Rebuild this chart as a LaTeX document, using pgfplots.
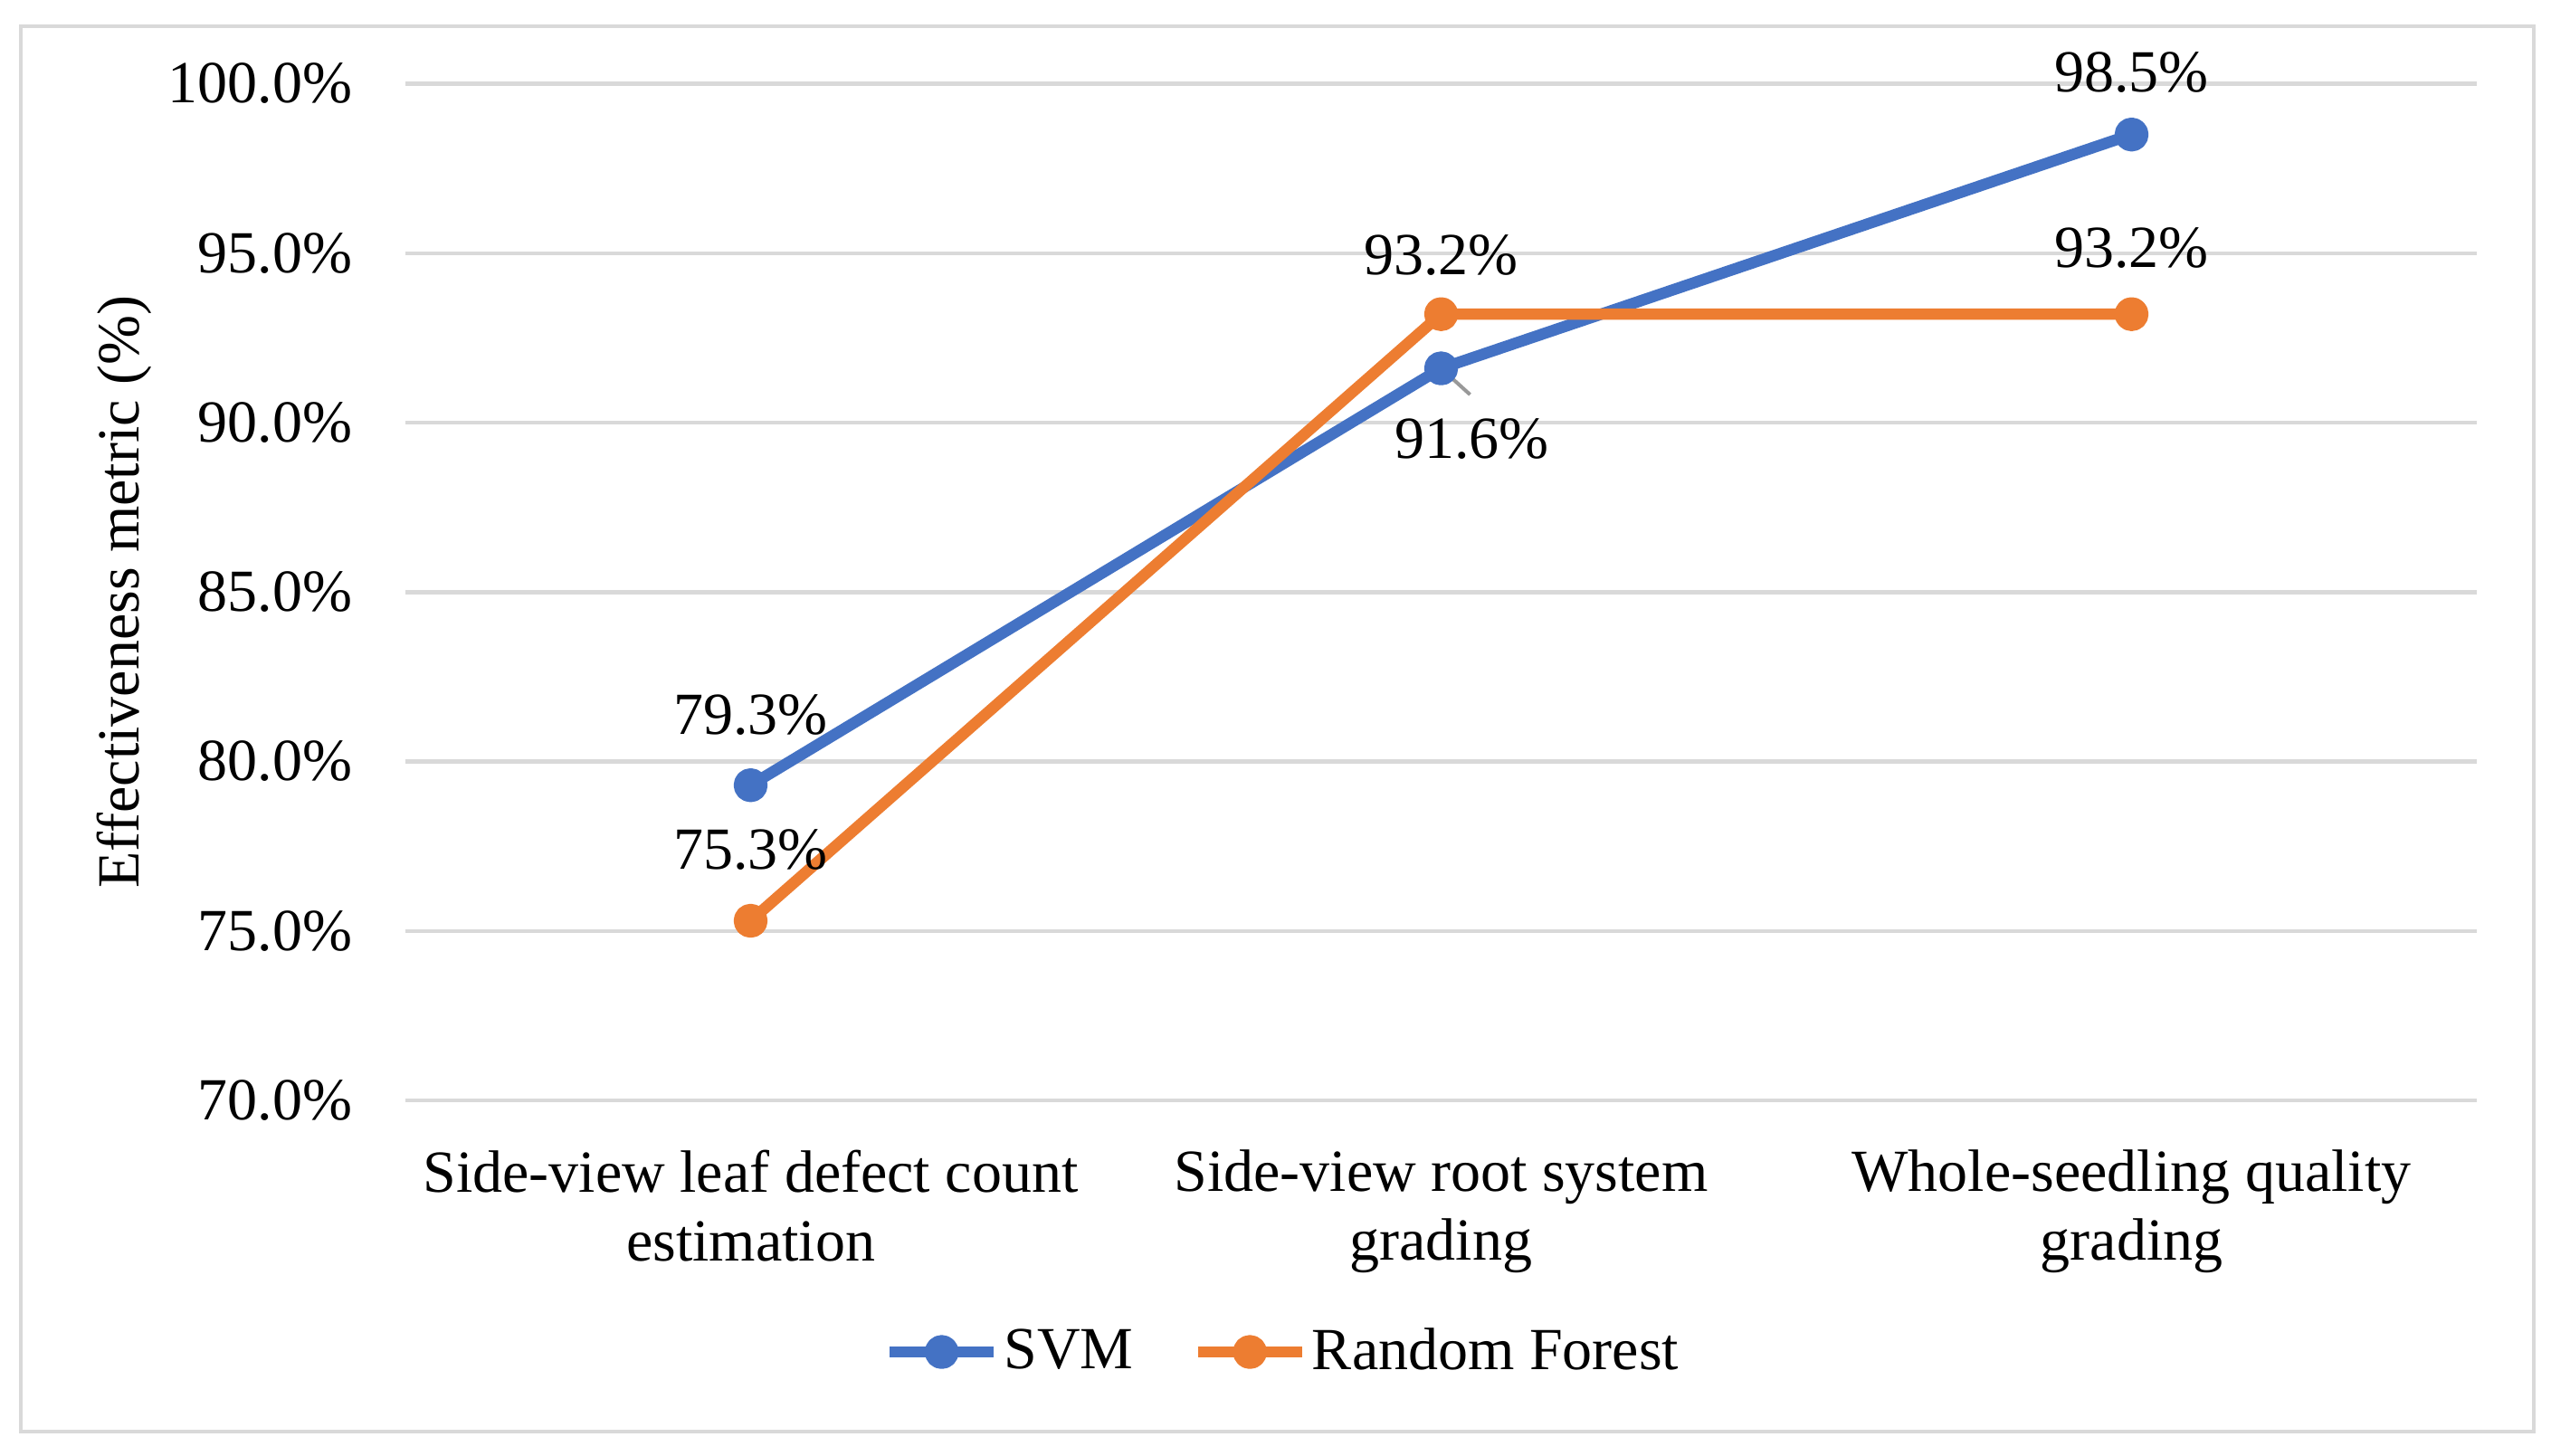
\documentclass[border=0pt]{standalone}
\usepackage{fontspec}
\setmainfont{Liberation Serif}
\usepackage{pgfplots}
\usepackage{pgfplotstable}
\pgfplotsset{compat=1.18}
\definecolor{svmblue}{HTML}{4472C4}
\definecolor{rforange}{HTML}{ED7D31}
\definecolor{gridgray}{HTML}{D9D9D9}
\newcommand{\chartfont}{\fontsize{13.2}{15.2}\selectfont}

\pgfplotstableread{
x y dx dy
0 79.3 0 15.5
1 91.6 6.8 -15.6
2 98.5 0 13.8
}\svmdata
\pgfplotstableread{
x y dx dy
0 75.3 0 15.8
1 93.2 0 13.0
2 93.2 0 14.7
}\rfdata

\begin{document}
\begin{tikzpicture}
\path[use as bounding box] (0,0) rectangle (563.8pt,321.6pt);
\fill[white] (0,0) rectangle (563.8pt,321.6pt);
\draw[gridgray, line width=0.8pt] (4.6pt,5.2pt) rectangle (560pt,315.8pt);
\begin{axis}[
  at={(89.6pt,78.4pt)}, anchor=south west,
  scale only axis, width=457.8pt, height=224.7pt,
  xmin=-0.5, xmax=2.5, ymin=70, ymax=100,
  axis line style={draw=none},
  major tick length=0pt,
  /pgf/number format/assume math mode=true,
  ytick={70,75,80,85,90,95,100},
  yticklabels={70.0\%,75.0\%,80.0\%,85.0\%,90.0\%,95.0\%,100.0\%},
  xtick={0,1,2},
  xticklabels={Side-view leaf defect count\\estimation, Side-view root system\\grading, Whole-seedling quality\\grading},
  ymajorgrids, grid style={gridgray, line width=0.9pt},
  yticklabel style={font=\chartfont, anchor=east, inner sep=0pt, xshift=-11.6pt},
  xticklabel style={font=\chartfont, align=center, anchor=north, inner sep=0pt, yshift=-10.8pt},
  ylabel={Effectiveness metric (\%)},
  every axis y label/.style={at={(axis description cs:-0.1359,0.5)}, rotate=90, anchor=center, font=\chartfont},
  legend style={at={(axis description cs:0.424,-0.2475)}, anchor=center, draw=none, font=\chartfont,
    legend columns=2, nodes={inner sep=1pt},
    /tikz/every even column/.append style={column sep=12pt}},
  legend image code/.code={\draw[mark repeat=2,mark phase=2] plot coordinates {(0pt,0pt) (11.5pt,0pt) (23pt,0pt)};},
  clip=false,
  every node near coord/.append style={font=\chartfont, text=black, anchor=center, inner sep=0pt, xshift=\dx pt, yshift=\dy pt},
  nodes near coords={\pgfmathprintnumber[assume math mode=true,fixed,fixed zerofill,precision=1]{\pgfplotspointmeta}\%},
]
\addplot[svmblue, line width=2.5pt, line join=round, mark=*, mark size=2.5pt, mark options={solid},
  point meta=y, visualization depends on={\thisrow{dx}\as\dx}, visualization depends on={\thisrow{dy}\as\dy}]
  table[x=x,y=y] {\svmdata};
\addlegendentry{SVM}
\addplot[rforange, line width=2.5pt, line join=round, mark=*, mark size=2.5pt, mark options={solid},
  point meta=y, visualization depends on={\thisrow{dx}\as\dx}, visualization depends on={\thisrow{dy}\as\dy}]
  table[x=x,y=y] {\rfdata};
\addlegendentry{Random Forest}
\draw[gray!80, line width=0.8pt] (axis cs:1,91.6) -- ++(6.4pt,-5.8pt);
\end{axis}
\end{tikzpicture}
\end{document}
